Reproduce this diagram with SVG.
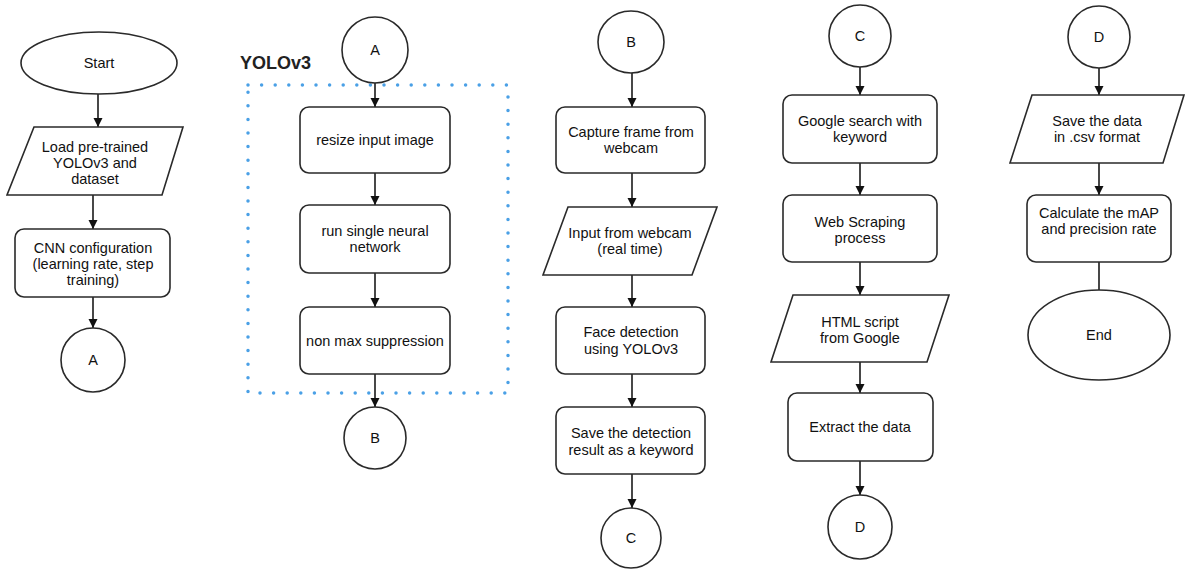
<svg xmlns="http://www.w3.org/2000/svg" width="1185" height="569" viewBox="0 0 1185 569">
<defs>
<marker id="arr" markerWidth="10" markerHeight="10" refX="9" refY="4.5" orient="auto" markerUnits="userSpaceOnUse">
<path d="M0,0 L9,4.5 L0,9 z" fill="#111"/>
</marker>
<style>
.s{fill:#fff;stroke:#2a2a2a;stroke-width:1.6}
.t{font-family:"Liberation Sans",Arial,sans-serif;font-size:14.5px;fill:#111;text-anchor:middle}
.c{stroke:#1a1a1a;stroke-width:1.6;fill:none}
.a{marker-end:url(#arr)}
.dot{fill:none;stroke:#4aa0e6;stroke-width:3.5;stroke-linecap:round;stroke-dasharray:0 13.6}
</style>
</defs>
<rect width="1185" height="569" fill="#fff"/>
<g id="yolo-group">
<rect class="dot" x="248" y="85" width="260" height="308"/>
<text x="240" y="69" style="font-family:'Liberation Sans',Arial,sans-serif;font-size:18px;font-weight:bold;fill:#222">YOLOv3</text>
</g>
<g id="connectors">
<line class="c a" x1="98" y1="94" x2="98" y2="127"/>
<line class="c a" x1="93" y1="195" x2="93" y2="229"/>
<line class="c a" x1="93" y1="297" x2="93" y2="328"/>
<line class="c a" x1="375" y1="83" x2="375" y2="107"/>
<line class="c a" x1="375" y1="173" x2="375" y2="205"/>
<line class="c a" x1="375" y1="273" x2="375" y2="307"/>
<line class="c a" x1="375" y1="374" x2="375" y2="407"/>
<line class="c a" x1="632" y1="73" x2="632" y2="107"/>
<line class="c a" x1="632" y1="173" x2="632" y2="207"/>
<line class="c a" x1="632" y1="275" x2="632" y2="307"/>
<line class="c a" x1="632" y1="374" x2="632" y2="407"/>
<line class="c a" x1="632" y1="474" x2="632" y2="508"/>
<line class="c a" x1="860" y1="67" x2="860" y2="95"/>
<line class="c a" x1="860" y1="163" x2="860" y2="195"/>
<line class="c a" x1="860" y1="262" x2="860" y2="295"/>
<line class="c a" x1="860" y1="362" x2="860" y2="393"/>
<line class="c a" x1="860" y1="461" x2="860" y2="495"/>
<line class="c a" x1="1099" y1="68" x2="1099" y2="95"/>
<line class="c a" x1="1099" y1="163" x2="1099" y2="195"/>
<line class="c" x1="1099" y1="262" x2="1099" y2="290"/>
</g>
<g id="start">
<ellipse class="s" cx="99" cy="63" rx="78" ry="31"/>
<text class="t" x="99" y="68">Start</text>
</g>
<g id="load">
<polygon class="s" points="34,127 183,127 162,195 7,195"/>
<text class="t" x="95" y="152">Load pre-trained</text>
<text class="t" x="95" y="168">YOLOv3 and</text>
<text class="t" x="95" y="184">dataset</text>
</g>
<g id="cnn">
<rect class="s" x="15" y="229" width="155" height="68" rx="9"/>
<text class="t" x="93" y="253">CNN configuration</text>
<text class="t" x="93" y="269">(learning rate, step</text>
<text class="t" x="93" y="285">training)</text>
</g>
<g id="a1">
<circle class="s" cx="93" cy="360" r="32"/>
<text class="t" x="93" y="365">A</text>
</g>
<g id="a2">
<circle class="s" cx="375" cy="50" r="33"/>
<text class="t" x="375" y="55">A</text>
</g>
<g id="resize">
<rect class="s" x="300" y="107" width="150" height="66" rx="9"/>
<text class="t" x="375" y="145">resize input image</text>
</g>
<g id="run">
<rect class="s" x="300" y="205" width="150" height="68" rx="9"/>
<text class="t" x="375" y="236">run single neural</text>
<text class="t" x="375" y="252">network</text>
</g>
<g id="nms">
<rect class="s" x="300" y="307" width="150" height="67" rx="9"/>
<text class="t" x="375" y="346">non max suppression</text>
</g>
<g id="b1">
<circle class="s" cx="375" cy="438" r="31"/>
<text class="t" x="375" y="443">B</text>
</g>
<g id="b2">
<ellipse class="s" cx="631" cy="42" rx="33" ry="31"/>
<text class="t" x="631" y="47">B</text>
</g>
<g id="capture">
<rect class="s" x="556" y="107" width="149" height="66" rx="9"/>
<text class="t" x="631" y="137">Capture frame from</text>
<text class="t" x="631" y="153">webcam</text>
</g>
<g id="input">
<polygon class="s" points="568,207 717,207 692,275 543,275"/>
<text class="t" x="630" y="238">Input from webcam</text>
<text class="t" x="630" y="254">(real time)</text>
</g>
<g id="face">
<rect class="s" x="556" y="307" width="149" height="67" rx="9"/>
<text class="t" x="631" y="337">Face detection</text>
<text class="t" x="631" y="354">using YOLOv3</text>
</g>
<g id="savedet">
<rect class="s" x="556" y="407" width="149" height="67" rx="9"/>
<text class="t" x="631" y="438">Save the detection</text>
<text class="t" x="631" y="455">result as a keyword</text>
</g>
<g id="c1">
<circle class="s" cx="631" cy="538" r="30"/>
<text class="t" x="631" y="543">C</text>
</g>
<g id="c2">
<circle class="s" cx="860" cy="36" r="31"/>
<text class="t" x="860" y="41">C</text>
</g>
<g id="google">
<rect class="s" x="783" y="95" width="154" height="68" rx="9"/>
<text class="t" x="860" y="126">Google search with</text>
<text class="t" x="860" y="142">keyword</text>
</g>
<g id="scrape">
<rect class="s" x="783" y="195" width="154" height="67" rx="9"/>
<text class="t" x="860" y="227">Web Scraping</text>
<text class="t" x="860" y="243">process</text>
</g>
<g id="html">
<polygon class="s" points="793,295 949,295 927,362 771,362"/>
<text class="t" x="860" y="327">HTML script</text>
<text class="t" x="860" y="343">from Google</text>
</g>
<g id="extract">
<rect class="s" x="788" y="393" width="145" height="68" rx="9"/>
<text class="t" x="860" y="432">Extract the data</text>
</g>
<g id="d1">
<circle class="s" cx="860" cy="527" r="32"/>
<text class="t" x="860" y="532">D</text>
</g>
<g id="d2">
<circle class="s" cx="1099" cy="37" r="31"/>
<text class="t" x="1099" y="42">D</text>
</g>
<g id="savecsv">
<polygon class="s" points="1032,95 1184,95 1163,163 1010,163"/>
<text class="t" x="1097" y="126">Save the data</text>
<text class="t" x="1097" y="142">in .csv format</text>
</g>
<g id="calc">
<rect class="s" x="1027" y="195" width="144" height="67" rx="9"/>
<text class="t" x="1099" y="218">Calculate the mAP</text>
<text class="t" x="1099" y="234">and precision rate</text>
</g>
<g id="end">
<ellipse class="s" cx="1099" cy="335" rx="71" ry="45"/>
<text class="t" x="1099" y="340">End</text>
</g>
</svg>
